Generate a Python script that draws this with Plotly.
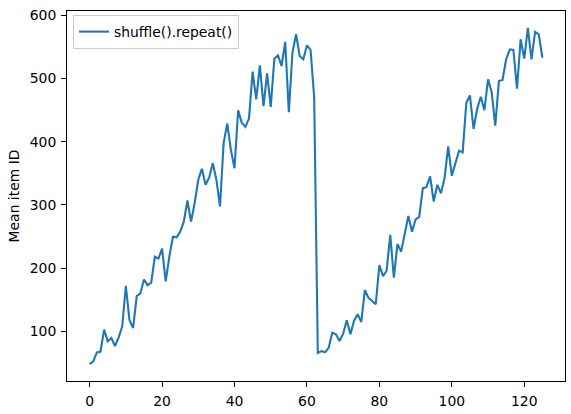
import plotly.graph_objects as go

series_name = "shuffle().repeat()"
y_label = "Mean item ID"
batch_index = list(range(126))
mean_item_id = [
    48, 52.4, 66.7, 68, 102.6, 84, 89.4, 76.7, 90, 108,
    172, 117.5, 105.3, 155.6, 159.8, 182, 173, 177, 218, 215,
    231, 179, 218, 249.7, 248.7, 257.6, 273.5, 306.9, 273.5, 303,
    339.7, 357, 331.7, 343, 366, 339.7, 297.3, 398, 428.6, 387,
    358, 449.7, 430, 423.3, 436.5, 510.6, 466.7, 520.6, 456, 508,
    455, 531.2, 536.5, 519.6, 557.7, 446.5, 540.7, 569.8, 535.4, 530.2,
    552.4, 545, 470, 65.6, 68.8, 66.7, 74, 97.9, 95.2, 84.6,
    96.3, 117.5, 95.2, 116.4, 127, 114.8, 165, 152.9, 148, 142.9,
    204.8, 187.3, 195.8, 252.4, 185, 238, 226, 252, 282.5, 257.6,
    277, 281, 326.4, 328, 345, 305.3, 331.7, 318.5, 342.4, 392.6,
    346, 366, 385.7, 383, 461.4, 473, 420, 451.9, 470.9, 449.7,
    498.4, 478.3, 425.4, 495.8, 497.4, 530.2, 546, 545, 483.6, 561.9,
    531.2, 580, 530.2, 573.6, 569.8, 532.7,
]
x_ticks = [0, 20, 40, 60, 80, 100, 120]
y_ticks = [100, 200, 300, 400, 500, 600]

# matplotlib-like 5% auto margins
xmin, xmax = min(batch_index), max(batch_index)
ymin, ymax = min(mean_item_id), max(mean_item_id)
xpad = 0.05 * (xmax - xmin)
ypad = 0.05 * (ymax - ymin)

FONT = "DejaVu Sans"

fig = go.Figure()
fig.add_trace(go.Scatter(
    x=batch_index, y=mean_item_id, mode="lines", name=series_name,
    line=dict(color="#1f77b4", width=2.1),
))

axis_common = dict(
    showgrid=False, zeroline=False, showline=True, linecolor="black",
    linewidth=1, mirror=True, ticks="outside", ticklen=5, tickwidth=1,
    tickcolor="black", tickfont=dict(family=FONT, size=13.9, color="black"),
    ticklabelstandoff=2,
)

fig.update_layout(
    width=571, height=414,
    margin=dict(l=67, r=6, t=11, b=33),
    paper_bgcolor="white", plot_bgcolor="white",
    font=dict(family=FONT, size=13.9, color="black"),
    xaxis=dict(range=[xmin - xpad, xmax + xpad], tickvals=x_ticks, **axis_common),
    yaxis=dict(range=[ymin - ypad, ymax + ypad], tickvals=y_ticks,
               title=dict(text=y_label, font=dict(family=FONT, size=13.9), standoff=6),
               **axis_common),
    showlegend=True,
    legend=dict(
        x=0.012, y=0.989, xanchor="left", yanchor="top",
        bgcolor="rgba(255,255,255,0.8)", bordercolor="#cccccc", borderwidth=1,
        font=dict(family=FONT, size=13.9, color="black"),
    ),
)

fig.write_html(
    "out.html",
    config={"displayModeBar": False},
    post_script="document.body.style.margin='0px';document.body.style.overflow='hidden';",
)
